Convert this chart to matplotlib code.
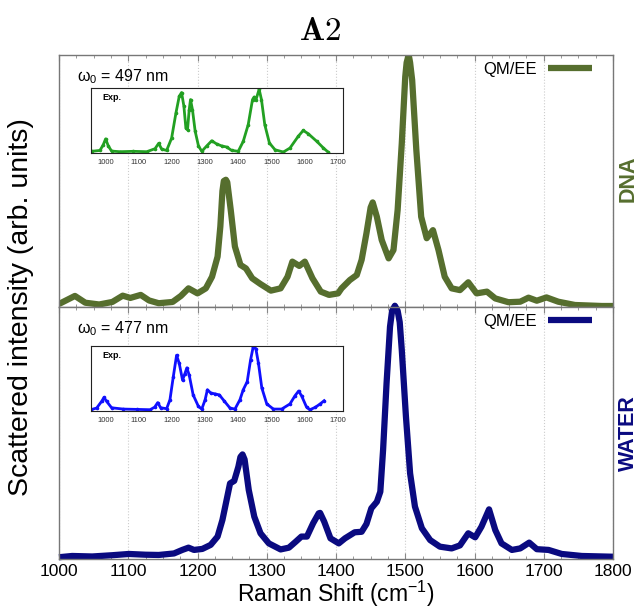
import matplotlib
matplotlib.use("Agg")
import matplotlib.pyplot as plt
from matplotlib.ticker import MultipleLocator

plt.rcParams['font.family'] = ['Liberation Sans', 'DejaVu Sans']
plt.rcParams['mathtext.fontset'] = 'custom'
plt.rcParams['mathtext.rm'] = 'Liberation Sans'
plt.rcParams['mathtext.it'] = 'Liberation Sans:italic'
plt.rcParams['mathtext.bf'] = 'Liberation Sans:bold'

# === DATOS ===
# espectro calculado QM/EE, DNA (w0 = 497 nm)
dna_x = [1000, 1023, 1038, 1058, 1077, 1092, 1103, 1118, 1130, 1144, 1164, 1176, 1187,
         1200, 1212, 1221, 1229, 1233, 1236, 1238, 1241, 1243, 1248, 1254, 1262, 1270,
         1279, 1291, 1306, 1320, 1330, 1337, 1347, 1355, 1366, 1378, 1390, 1403, 1408,
         1420, 1430, 1437, 1444, 1450, 1453, 1459, 1466, 1476, 1483, 1489, 1495, 1500,
         1502, 1505, 1507, 1510, 1516, 1523, 1531, 1540, 1548, 1557, 1567, 1579, 1591,
         1603, 1618, 1630, 1649, 1666, 1678, 1690, 1704, 1721, 1745, 1784, 1800]
dna_y = [0.012, 0.044, 0.017, 0.010, 0.020, 0.045, 0.036, 0.048, 0.026, 0.015, 0.020, 0.044, 0.074,
         0.054, 0.074, 0.120, 0.200, 0.320, 0.460, 0.500, 0.505, 0.495, 0.385, 0.240, 0.167, 0.153,
         0.114, 0.091, 0.065, 0.074, 0.120, 0.180, 0.163, 0.180, 0.114, 0.061, 0.048, 0.054, 0.074,
         0.107, 0.127, 0.187, 0.293, 0.395, 0.415, 0.358, 0.266, 0.193, 0.226, 0.385, 0.650, 0.914,
         0.970, 1.000, 0.970, 0.900, 0.623, 0.358, 0.273, 0.305, 0.226, 0.120, 0.074, 0.067, 0.098,
         0.054, 0.061, 0.034, 0.019, 0.021, 0.037, 0.025, 0.038, 0.021, 0.008, 0.004, 0.004]

# espectro calculado QM/EE, agua (w0 = 477 nm)
water_x = [1000, 1019, 1048, 1077, 1101, 1125, 1144, 1166, 1178, 1187, 1195, 1207, 1219,
           1229, 1236, 1242, 1247, 1253, 1259, 1262, 1265, 1268, 1274, 1282, 1291, 1303,
           1320, 1332, 1342, 1350, 1358, 1367, 1375, 1377, 1383, 1392, 1404, 1413, 1427,
           1437, 1444, 1451, 1459, 1464, 1468, 1473, 1478, 1481, 1485, 1489, 1492, 1495,
           1501, 1507, 1514, 1524, 1536, 1550, 1567, 1579, 1591, 1601, 1610, 1621, 1630,
           1639, 1654, 1666, 1679, 1690, 1707, 1726, 1755, 1800]
water_y = [0.007, 0.012, 0.010, 0.015, 0.020, 0.017, 0.016, 0.022, 0.036, 0.045, 0.036, 0.040, 0.056,
           0.089, 0.155, 0.234, 0.300, 0.310, 0.366, 0.405, 0.415, 0.395, 0.274, 0.168, 0.102, 0.062,
           0.038, 0.045, 0.069, 0.089, 0.089, 0.142, 0.181, 0.183, 0.148, 0.082, 0.062, 0.082, 0.106,
           0.108, 0.139, 0.201, 0.227, 0.267, 0.433, 0.697, 0.922, 0.985, 1.005, 0.985, 0.940, 0.829,
           0.565, 0.340, 0.208, 0.122, 0.075, 0.049, 0.042, 0.054, 0.102, 0.086, 0.128, 0.197, 0.115,
           0.062, 0.036, 0.042, 0.065, 0.039, 0.036, 0.020, 0.012, 0.009]

# espectros experimentales (insets)
exp_dna_x = [958, 983, 993, 1000, 1008, 1018, 1043, 1083, 1124, 1149, 1160, 1169, 1184, 1199,
             1212, 1222, 1229, 1236, 1242, 1247, 1252, 1256, 1262, 1270, 1280, 1290, 1305, 1320,
             1335, 1350, 1365, 1380, 1400, 1415, 1430, 1443, 1448, 1453, 1463, 1470, 1480, 1494,
             1511, 1536, 1556, 1581, 1596, 1611, 1637, 1657, 1672]
exp_dna_y = [0.016, 0.030, 0.120, 0.210, 0.100, 0.020, 0.010, 0.016, 0.010, 0.057, 0.140, 0.050, 0.030, 0.220,
             0.610, 0.870, 0.930, 0.720, 0.380, 0.350, 0.660, 0.820, 0.660, 0.330, 0.100, 0.016, 0.100, 0.180,
             0.130, 0.100, 0.083, 0.030, 0.016, 0.170, 0.430, 0.820, 0.860, 0.810, 0.980, 0.820, 0.430, 0.145,
             0.040, 0.005, 0.067, 0.250, 0.340, 0.290, 0.170, 0.067, 0.000]

exp_water_x = [955, 973, 988, 995, 1003, 1018, 1053, 1094, 1134, 1148, 1157, 1166, 1184, 1194,
               1204, 1214, 1222, 1232, 1239, 1245, 1252, 1264, 1280, 1290, 1300, 1307, 1317, 1330,
               1343, 1357, 1375, 1390, 1405, 1415, 1427, 1437, 1445, 1453, 1461, 1471, 1486, 1506,
               1531, 1556, 1571, 1582, 1591, 1606, 1616, 1632, 1647, 1659]
exp_water_y = [0.010, 0.036, 0.140, 0.200, 0.140, 0.040, 0.020, 0.015, 0.010, 0.050, 0.120, 0.040, 0.026, 0.164,
               0.520, 0.856, 0.730, 0.470, 0.570, 0.660, 0.550, 0.240, 0.060, 0.020, 0.164, 0.320, 0.270, 0.256,
               0.240, 0.150, 0.036, 0.020, 0.164, 0.320, 0.446, 0.780, 0.985, 0.960, 0.730, 0.350, 0.100, 0.020,
               0.020, 0.100, 0.226, 0.300, 0.226, 0.050, 0.010, 0.046, 0.100, 0.150]

paneles = [
    ("DNA", dna_x, dna_y, exp_dna_x, exp_dna_y, "497", "#566e2e", "#22a022"),
    ("WATER", water_x, water_y, exp_water_x, exp_water_y, "477", "#0a0a80", "#1010ff"),
]

# === GRAFICADO ===
fig = plt.figure(figsize=(6.4, 6.1), dpi=100)
izq, ancho = 59 / 640, (613 - 59) / 640
alto = 252 / 610
ax_top = fig.add_axes([izq, 1 - 307 / 610, ancho, alto])
ax_bot = fig.add_axes([izq, 1 - 559 / 610, ancho, alto], sharex=ax_top)

inset_pos = [[90.7 / 640, 1 - 153 / 610, 252 / 640, 65 / 610],
             [90.7 / 640, 1 - 411 / 610, 252 / 640, 65 / 610]]

for ax, (etiqueta, x, y, ex, ey, w0, color, color_exp), pos in zip([ax_top, ax_bot], paneles, inset_pos):
    ax.plot(x, y, color=color, linewidth=4.5, solid_capstyle="butt", label="QM/EE",
            clip_on=(etiqueta == "DNA"))
    ax.set_xlim(1000, 1800)
    ax.set_ylim(0, 1.0)
    ax.set_yticks([])
    ax.xaxis.set_major_locator(MultipleLocator(100))
    ax.xaxis.set_minor_locator(MultipleLocator(25))
    ax.tick_params(axis="x", which="both", direction="in", top=True, bottom=True,
                   color="#888888", labelsize=12.5)
    ax.tick_params(axis="x", which="major", length=4)
    ax.tick_params(axis="x", which="minor", length=2)
    ax.grid(True, axis="x", linestyle=":", color="#cccccc", linewidth=0.8)
    for s in ax.spines.values():
        s.set_color("#777777")
        s.set_linewidth(1.0)
    ax.legend(loc="upper right", bbox_to_anchor=(0.991, 1.036), frameon=False,
              markerfirst=False, fontsize=12, handlelength=2.65, handletextpad=0.65,
              borderaxespad=0.55)
    ax.text(0.033, 0.915, "ω$_0$ = " + w0 + " nm", transform=ax.transAxes,
            fontsize=11.5, va="center", ha="left")
    fig.text(628 / 640, ax.get_position().y0 + alto * (0.51 if etiqueta == "DNA" else 0.5),
             etiqueta, rotation=90, color=color, fontsize=15.5, fontweight="bold",
             ha="center", va="center")

    # inset experimental
    axi = fig.add_axes(pos)
    axi.plot(ex, ey, color=color_exp, linewidth=2.0, marker="o", markersize=1.6)
    axi.set_xlim(955, 1715)
    axi.set_ylim(-0.01, 1.0)
    axi.set_yticks([])
    axi.set_xticks(range(1000, 1701, 100))
    axi.tick_params(axis="x", length=0, labelsize=5.5, labelcolor="#333333", pad=4)
    for s in axi.spines.values():
        s.set_color("#222222")
        s.set_linewidth(0.8)
    axi.text(0.045, 0.86, "Exp.", transform=axi.transAxes, fontsize=6.5,
             fontweight="bold", va="center")

ax_top.tick_params(axis="x", labelbottom=False)

fig.text(0.5, 1 - 31 / 610, r"$\mathbf{A2}$", math_fontfamily="cm", fontsize=24,
         ha="center", va="center")
fig.text(0.033, 1 - 307 / 610, "Scattered intensity (arb. units)", rotation=90,
         fontsize=20.5, ha="center", va="center")
ax_bot.set_xlabel("Raman Shift (cm$^{-1}$)", fontsize=16.5, labelpad=0)

fig.savefig("out.png", dpi=100)
